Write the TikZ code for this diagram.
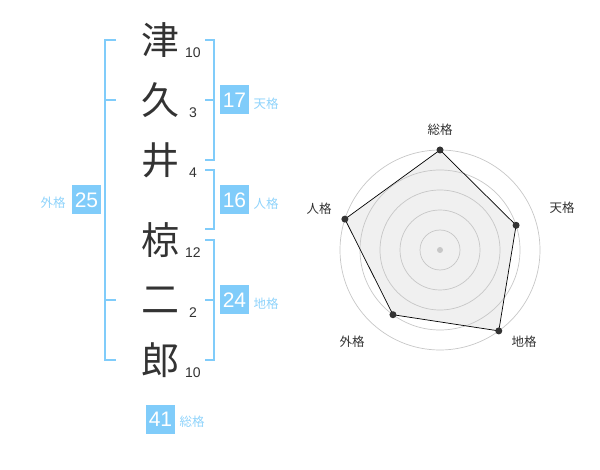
\documentclass[tikz,border=0pt]{standalone}
\usepackage{fontspec}
\setmainfont{Noto Sans CJK JP}
\newfontfamily\lat{Liberation Sans}
\definecolor{bl}{HTML}{80CCFA}
\definecolor{lbl}{HTML}{8FD3FB}
\definecolor{ink}{HTML}{333333}
\begin{document}
\begin{tikzpicture}[x=1pt,y=-1pt,
  kanji/.style={font=\fontsize{38}{38}\selectfont, text=ink, inner sep=0},
  strokes/.style={font=\lat\fontsize{14}{14}\selectfont, text=ink, inner sep=0},
  valbox/.style={fill=bl, text=white, minimum size=29pt, inner sep=0, font=\lat\fontsize{21}{21}\selectfont},
  gname/.style={text=lbl, font=\fontsize{12.5}{12.5}\selectfont, inner sep=0},
  brk/.style={draw=bl, line width=2pt},
  ring/.style={draw=black!22, line width=0.7pt},
  axlab/.style={text=ink, font=\fontsize{12.5}{12.5}\selectfont, inner sep=0},
  vdot/.style={circle, fill=ink, inner sep=0, minimum size=7pt}]
\useasboundingbox (0,0) rectangle (600,470);
% characters
\node[kanji] (k1) at (160,40) {津};
\node[kanji] (k2) at (160,100) {久};
\node[kanji] (k3) at (160,160) {井};
\node[kanji] (k4) at (160,240) {椋};
\node[kanji] (k5) at (160,300) {二};
\node[kanji] (k6) at (160,360) {郎};
\node[strokes] (s1) at (193,53) {10};
\node[strokes] (s2) at (193,113) {3};
\node[strokes] (s3) at (193,173) {4};
\node[strokes] (s4) at (193,253) {12};
\node[strokes] (s5) at (193,313) {2};
\node[strokes] (s6) at (193,373) {10};
% brackets
\draw[brk] (116,40) -- (105,40) -- (105,360) -- (116,360);
\draw[brk] (105,100) -- (116,100);
\draw[brk] (105,300) -- (116,300);
\draw[brk] (205,40) -- (214,40) -- (214,160) -- (205,160);
\draw[brk] (205,100) -- (214,100);
\draw[brk] (205,170) -- (214,170) -- (214,229) -- (205,229);
\draw[brk] (205,240) -- (214,240) -- (214,360) -- (205,360);
\draw[brk] (205,300) -- (214,300);
% values
\node[valbox] (v25) at (86.5,200) {25};
\node[gname] (g25) at (53,203) {外格};
\node[valbox] (v17) at (234.5,100) {17};
\node[gname] (g17) at (266,104) {天格};
\node[valbox] (v16) at (234.5,200) {16};
\node[gname] (g16) at (266,204) {人格};
\node[valbox] (v24) at (234.5,300) {24};
\node[gname] (g24) at (266,304) {地格};
\node[valbox] (v41) at (160.5,419.5) {41};
\node[gname] (g41) at (192,422) {総格};
% radar
\coordinate (c) at (440,250);
\path (c) ++(-90:100) coordinate (p1)
      (c) ++(-18:80) coordinate (p2)
      (c) ++(54:100) coordinate (p3)
      (c) ++(126:80) coordinate (p4)
      (c) ++(198:100) coordinate (p5);
\fill[black!6] (p1) -- (p2) -- (p3) -- (p4) -- (p5) -- cycle;
\foreach \r in {20,40,60,80,100} \draw[ring] (c) circle[radius=\r];
\draw[black, line width=0.7pt] (p1) -- (p2) -- (p3) -- (p4) -- (p5) -- cycle;
\node[circle, fill=black!22, inner sep=0, minimum size=6pt] (cd) at (c) {};
\node[vdot] (d1) at (p1) {};
\node[vdot] (d2) at (p2) {};
\node[vdot] (d3) at (p3) {};
\node[vdot] (d4) at (p4) {};
\node[vdot] (d5) at (p5) {};
\node[axlab] (a1) at (440,130) {総格};
\node[axlab] (a2) at (562,208) {天格};
\node[axlab] (a3) at (524,342) {地格};
\node[axlab] (a4) at (352,342) {外格};
\node[axlab] (a5) at (319,209) {人格};
\end{tikzpicture}
\end{document}
